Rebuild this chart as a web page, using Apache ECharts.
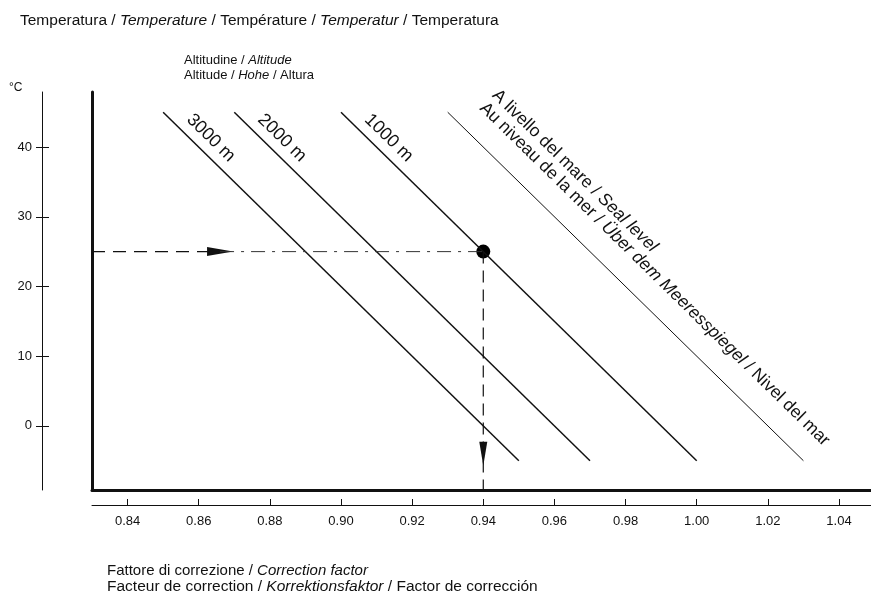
<!DOCTYPE html>
<html>
<head>
<meta charset="utf-8">
<script src="https://cdn.jsdelivr.net/npm/echarts@6/dist/echarts.min.js"></script>
<style>
  html, body { margin: 0; padding: 0; background: #fff; }
  #chart { width: 871px; height: 594px; }
</style>
</head>
<body>
<div id="chart"></div>
<script>
// altitude lines: x at 45 °C and x at -5 °C
var lineNames = ['3000 m', '2000 m', '1000 m', 'sea'];
var topX = [0.85, 0.87, 0.90, 0.93];
var bottomX = [0.95, 0.97, 1.00, 1.03];
var tempTop = 45;
var tempBottom = -5;

// axis ticks
var yTicks = [0, 10, 20, 30, 40];
var xTicks = [0.84, 0.86, 0.88, 0.90, 0.92, 0.94, 0.96, 0.98, 1.00, 1.02, 1.04];

// worked example: 25 °C at 1000 m -> 0.94
var reading = [0.94, 25];
var arrowRight = [0.866, 25];
var arrowDown = [0.94, -4];

var xMin = 0.83, xMax = 1.049;
var yMin = -9.2, yMax = 47.9;

var ink = '#111';
var font = "'Liberation Sans', Arial, Helvetica, sans-serif";

var chart = echarts.init(document.getElementById('chart'));

var series = [];
lineNames.forEach(function (name, i) {
  series.push({
    type: 'line',
    name: name,
    data: [[topX[i], tempTop], [bottomX[i], tempBottom]],
    symbol: 'none',
    silent: true,
    lineStyle: { color: ink, width: i === 3 ? 1 : 1.5 }
  });
});
// dashed guide lines
series.push({
  type: 'line',
  data: [[xMin, reading[1]], arrowRight],
  symbol: 'none',
  lineStyle: { color: ink, width: 1.3, type: [13, 8] }
});
series.push({
  type: 'line',
  data: [arrowRight, reading],
  symbol: 'none',
  lineStyle: { color: '#333', width: 1, type: [14, 7, 3, 7] }
});
series.push({
  type: 'line',
  data: [reading, [reading[0], yMin]],
  symbol: 'none',
  lineStyle: { color: ink, width: 1.2, type: [12, 7] }
});
// arrows and point
series.push({
  type: 'scatter',
  data: [arrowRight],
  symbol: 'triangle',
  symbolSize: [9, 26],
  symbolRotate: -90,
  itemStyle: { color: ink, opacity: 1 }
});
series.push({
  type: 'scatter',
  data: [arrowDown],
  symbol: 'triangle',
  symbolSize: [8, 24],
  symbolRotate: 180,
  itemStyle: { color: ink, opacity: 1 }
});
series.push({
  type: 'scatter',
  data: [reading],
  symbol: 'circle',
  symbolSize: 14,
  itemStyle: { color: '#000', opacity: 1 }
});

var option = {
  animation: false,
  backgroundColor: '#fff',
  textStyle: { fontFamily: font },
  grid: { left: 92, right: 0, top: 92, bottom: 104 },
  xAxis: [
    {
      type: 'value', min: xMin, max: xMax, position: 'bottom',
      axisLine: { show: true, onZero: false, lineStyle: { color: ink, width: 3 } },
      axisTick: { show: false }, axisLabel: { show: false }, splitLine: { show: false }
    },
    {
      type: 'value', min: xMin, max: xMax, position: 'bottom', offset: 15,
      axisLine: { show: true, onZero: false, lineStyle: { color: ink, width: 1 } },
      axisTick: { show: true, inside: true, length: 6, customValues: xTicks, lineStyle: { color: ink } },
      axisLabel: {
        customValues: xTicks, margin: 10, color: ink, fontSize: 13, fontFamily: font,
        formatter: function (v) { return v.toFixed(2); }
      },
      splitLine: { show: false }
    }
  ],
  yAxis: [
    {
      type: 'value', min: yMin, max: yMax, position: 'left',
      axisLine: { show: true, onZero: false, lineStyle: { color: ink, width: 3 } },
      axisTick: { show: false }, axisLabel: { show: false }, splitLine: { show: false }
    },
    {
      type: 'value', min: yMin, max: yMax, position: 'left', offset: 50,
      axisLine: { show: true, onZero: false, lineStyle: { color: ink, width: 1 } },
      axisTick: { show: true, length: 6, customValues: yTicks, lineStyle: { color: ink } },
      axisLabel: { customValues: yTicks, margin: 10, color: ink, fontSize: 13, fontFamily: font },
      splitLine: { show: false }
    },
    {
      type: 'value', min: yMin, max: yMax, position: 'left', offset: 50,
      axisLine: { show: false, onZero: false },
      axisTick: { show: true, inside: true, length: 7, customValues: yTicks, lineStyle: { color: ink } },
      axisLabel: { show: false },
      splitLine: { show: false }
    }
  ],
  series: series
};
chart.setOption(option);

// texts placed along the altitude lines
function richText(x, y, text, size, extra) {
  var el = {
    type: 'text', x: x, y: y, silent: true,
    style: {
      text: text, fill: ink, fontSize: size, fontFamily: font,
      align: 'left', verticalAlign: 'middle',
      rich: {
        n: { fontSize: size, fontFamily: font, fill: ink },
        i: { fontSize: size, fontFamily: font, fontStyle: 'italic', fill: ink }
      }
    }
  };
  if (extra) {
    Object.keys(extra).forEach(function (k) { el[k] = extra[k]; });
    if (extra.verticalAlign) el.style.verticalAlign = extra.verticalAlign;
  }
  return el;
}

function alongLine(i, s, g) {
  var p0 = chart.convertToPixel({ gridIndex: 0 }, [topX[i], tempTop]);
  var p1 = chart.convertToPixel({ gridIndex: 0 }, [bottomX[i], tempBottom]);
  var dx = p1[0] - p0[0], dy = p1[1] - p0[1];
  var len = Math.sqrt(dx * dx + dy * dy);
  var ux = dx / len, uy = dy / len;
  return {
    x: p0[0] + ux * s + uy * g,
    y: p0[1] + uy * s - ux * g,
    rotation: -Math.atan2(dy, dx)
  };
}

var graphics = [
  richText(20, 21, 'Temperatura / {i|Temperature} / Température / {i|Temperatur} / Temperatura', 15.5),
  richText(184, 60, 'Altitudine / {i|Altitude}', 13),
  richText(184, 75, 'Altitude / {i|Hohe} / Altura', 13),
  richText(9, 88, '°C', 12),
  richText(107, 571, 'Fattore di correzione / {i|Correction factor}', 15),
  richText(107, 587, 'Facteur de correction / {i|Korrektionsfaktor} / Factor de corrección', 15.5)
];

for (var i = 0; i < 3; i++) {
  var a = alongLine(i, 22, 6);
  graphics.push(richText(a.x, a.y, lineNames[i], 18, { rotation: a.rotation, verticalAlign: 'bottom' }));
}
var s1 = alongLine(3, 20, 38);
graphics.push(richText(s1.x, s1.y, 'A livello del mare / {i|Seal level}', 17.5, { rotation: s1.rotation, verticalAlign: 'bottom' }));
var s2 = alongLine(3, 20, 20);
graphics.push(richText(s2.x, s2.y, 'Au niveau de la mer / {i|Über dem Meeresspiegel} / Nivel del mar', 17.5, { rotation: s2.rotation, verticalAlign: 'bottom' }));

chart.setOption({ graphic: graphics });
</script>
</body>
</html>
